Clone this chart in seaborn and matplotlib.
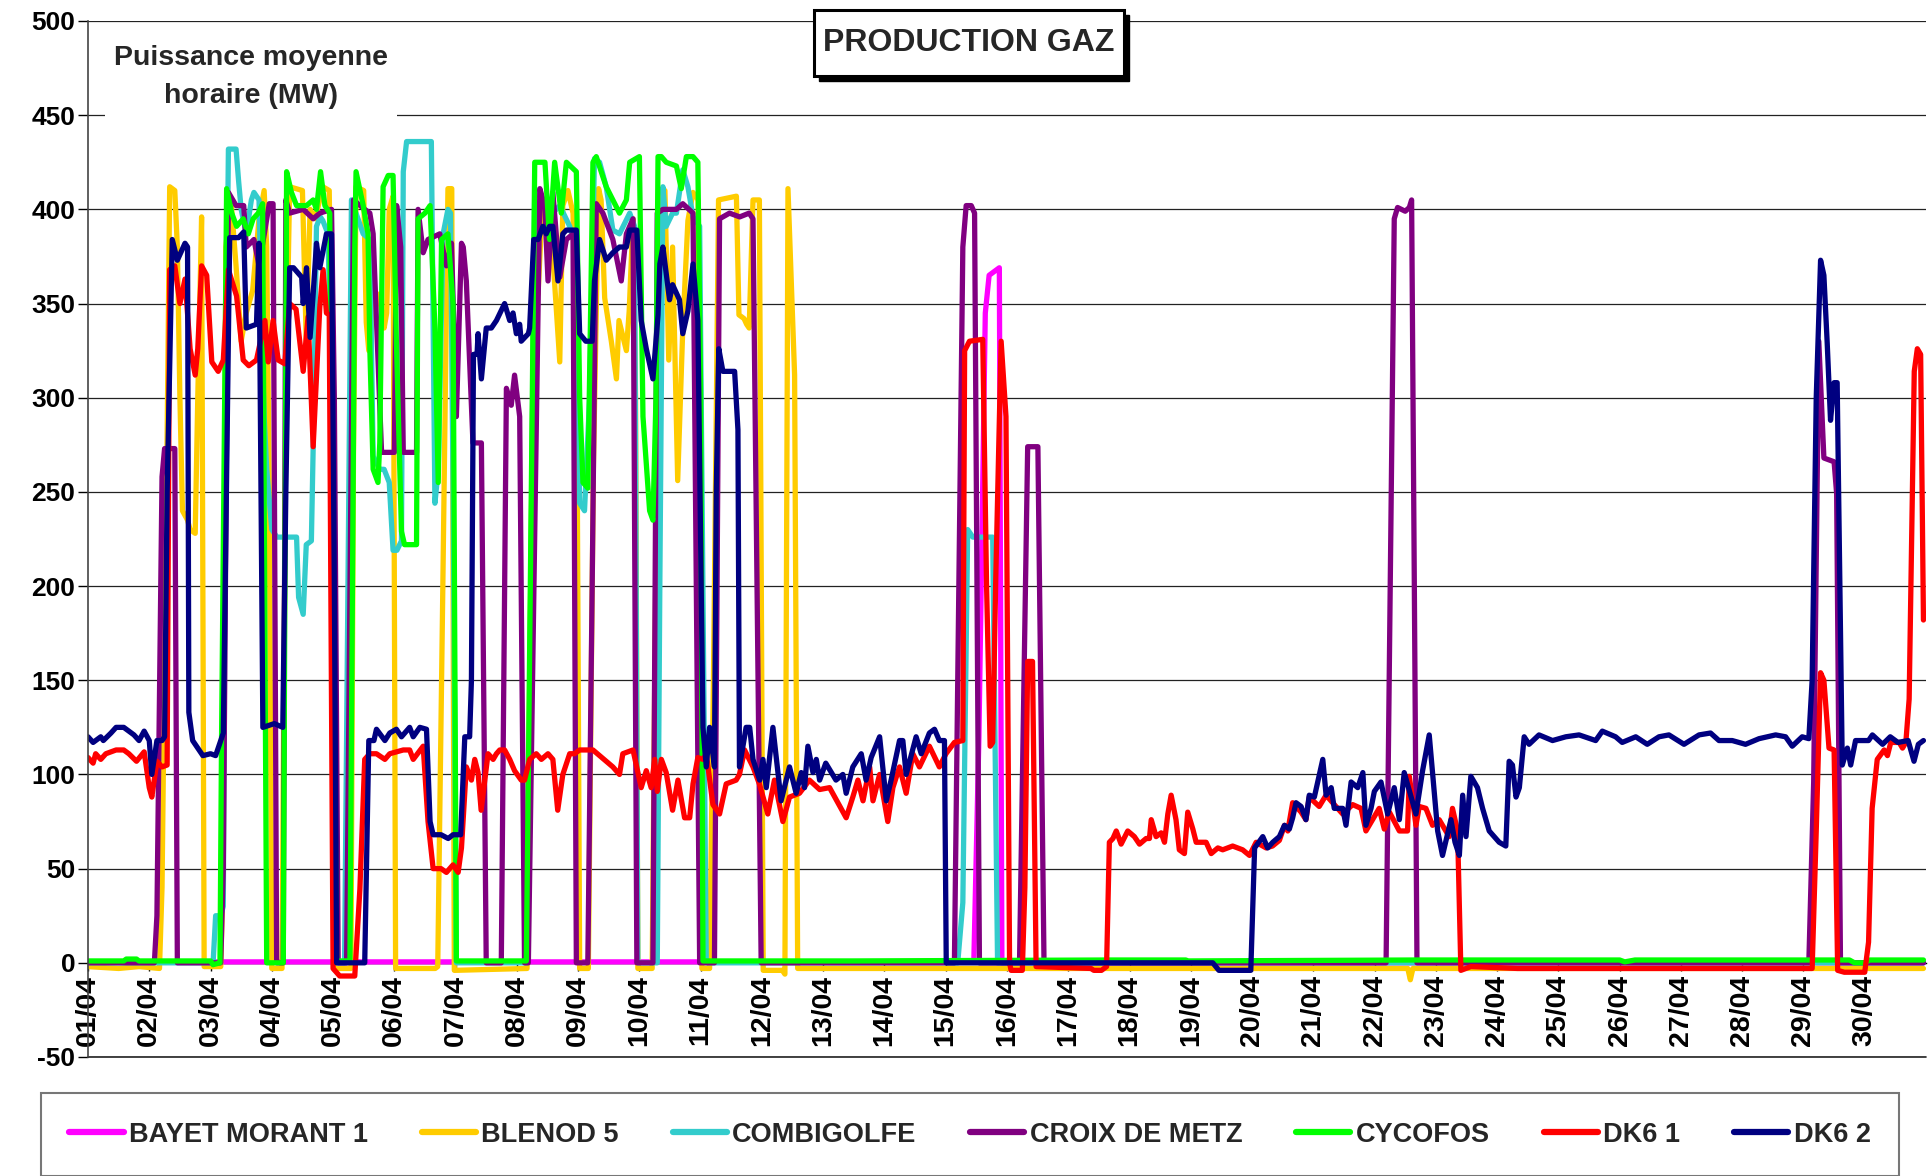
import matplotlib
matplotlib.use("Agg")
import matplotlib.pyplot as plt
import pandas as pd
import seaborn as sns
from matplotlib.patches import Rectangle

# ---------------- data (hour of month, MW) ----------------
series_names = ["BAYET MORANT 1", "BLENOD 5", "COMBIGOLFE", "CROIX DE METZ",
                "CYCOFOS", "DK6 1", "DK6 2"]
series_colors = ["#FF00FF", "#FFCC00", "#33CCCC", "#800080",
                 "#00FF00", "#FF0000", "#000080"]
day_labels = ["01/04", "02/04", "03/04", "04/04", "05/04", "06/04", "07/04", "08/04",
              "09/04", "10/04", "11/04", "12/04", "13/04", "14/04", "15/04", "16/04",
              "17/04", "18/04", "19/04", "20/04", "21/04", "22/04", "23/04", "24/04",
              "25/04", "26/04", "27/04", "28/04", "29/04", "30/04"]
y_ticks = [-50, 0, 50, 100, 150, 200, 250, 300, 350, 400, 450, 500]

bayet_morant_1 = [(0, 0.5), (347, 0.5), (349, 120), (351.5, 345), (353, 365), (357, 369),
                  (358, 0), (719, 0)]

blenod_5 = [(0, -2), (12, -3), (20, -2), (28, -3), (29, 40), (31, 280), (32, 412), (34, 410),
            (35, 380), (36, 300), (37, 240), (39, 235), (40, 230), (42, 228), (43, 300),
            (44.5, 396), (45.5, -2), (52, -2), (53, 50), (54, 380), (56, 405), (58, 370),
            (60, 330), (62, 345), (64.5, 357), (67, 395), (69, 410), (70, 380), (71, 250),
            (72, -3), (76, -3), (77.5, 300), (79, 412), (84, 410), (85.5, 330), (87, 400),
            (89, 395), (92, 412), (94.5, 410), (95.5, 300), (96.5, -3), (103, -3), (104, 270),
            (105, 412), (108, 410), (109, 340), (110, 325), (112, 348), (114, 355), (116, 337),
            (117, 345), (118, 400), (119.5, 407), (120.5, -3), (136, -3), (137, -2), (139, 200),
            (141, 411), (142.5, 411), (143.5, -4), (172, -3), (173, 150), (175, 400),
            (176.3, 355), (178, 403), (181, 398), (184.8, 319), (186, 402), (188, 410),
            (190, 398), (191.5, 300), (192.6, -3), (196, -3), (198, 265), (200, 411), (201, 405),
            (202.4, 353), (205, 330), (207, 310), (208, 341), (210.9, 325), (212, 346),
            (213.5, 395), (214.5, 300), (215.4, -3), (221, -3), (222, 150), (224, 405),
            (226, 410), (227.5, 320), (229, 380), (231, 256), (233, 337), (235, 394), (237, 409),
            (239, 405), (240.5, -3), (243.5, -3), (245, 150), (247, 405), (254, 407), (255, 344),
            (257, 342), (258, 339), (259, 337), (260.5, 405), (263, 405), (264.5, -4), (272, -4),
            (273, -6), (274.2, 411), (276.8, 312), (278, -3), (517, -3), (518, -9), (519, -3),
            (719, -3)]

combigolfe = [(0, 0), (49, 0), (50, 25), (52, 25), (53, 30), (54, 300), (55, 432), (58, 432),
              (59, 415), (60, 400), (62, 387), (64, 405), (65, 409), (67, 405), (68, 340),
              (69, 290), (70, 262), (72, 230), (74, 226), (81.7, 226), (82.5, 194), (84.3, 185),
              (85.5, 222), (87.5, 224), (88.2, 273), (89.5, 391), (91, 396), (92, 394), (94, 387),
              (95.5, 300), (97.4, 0), (100.5, 0), (103.2, 405), (107.8, 387), (110.4, 384),
              (111.7, 269), (114.3, 262), (116, 262), (118, 255), (119.5, 219), (121, 219),
              (122.8, 224), (123.5, 420), (124.8, 436), (134.5, 436), (135.9, 244), (137.2, 262),
              (139.1, 387), (141, 400), (142, 398), (143, 255), (144.3, 0), (172, 0), (175, 411),
              (179.5, 402), (182, 398), (184.8, 402), (188.7, 391), (191, 380), (192.6, 244),
              (194.5, 240), (196.5, 300), (198.4, 427), (200.4, 425), (203, 412), (205.6, 389),
              (208.2, 387), (212.2, 398), (214.1, 391), (215.4, 0), (223, 0), (224, 200),
              (225.2, 412), (226.5, 391), (229, 398), (230.5, 398), (233, 421), (235, 412),
              (237, 396), (239.6, 391), (242.2, 0), (340.7, 0), (342.7, 32), (344.6, 230),
              (346.6, 226), (354.4, 226), (356.3, 0), (719, 0)]

croix_de_metz = [(0, 0), (26, 0), (27, 25), (29, 258), (30, 273), (34, 273), (35, 0), (52, 0),
                 (53, 50), (55, 409), (58, 402), (61, 402), (62, 380), (65, 384), (67, 370),
                 (71, 403), (72.5, 403), (73.9, 0), (76.5, 0), (77.5, 405), (79, 398), (84.3, 400),
                 (88.2, 395), (90.8, 398), (95.4, 400), (96.5, 300), (98, 0), (101.3, 0),
                 (104, 405), (108.4, 400), (110.4, 398), (111.7, 387), (115, 271), (120, 271),
                 (120.9, 402), (122.5, 380), (123.5, 271), (128.7, 271), (129.3, 400),
                 (131.3, 377), (133.2, 384), (137.8, 387), (140.4, 370), (142.4, 382),
                 (144.3, 290), (146.3, 382), (147, 380), (148.2, 362), (150.8, 276), (154.1, 276),
                 (156, 0), (161.9, 0), (163.9, 305), (165.8, 296), (167.1, 312), (169.1, 290),
                 (171, 0), (172.5, 0), (177, 411), (178.9, 402), (180.2, 362), (182.1, 409),
                 (184.8, 364), (187.4, 384), (190, 387), (191.3, 0), (195.8, 0), (197.5, 200),
                 (199.1, 403), (201.7, 398), (205.6, 384), (208.9, 362), (210.9, 387),
                 (213.5, 395), (215, 0), (221.3, 0), (223, 398), (225.2, 400), (230.5, 400),
                 (233, 403), (237, 398), (239.6, 0), (245.4, 0), (247.4, 395), (251.3, 398),
                 (255.3, 396), (259, 398), (260.5, 395), (263.7, 0), (339.4, 0), (342.7, 380),
                 (344, 402), (346, 402), (347.3, 398), (349.2, 0), (364.9, 0), (368.1, 274),
                 (372.1, 274), (374.5, 0), (508.5, 0), (511.7, 395), (513, 401), (516, 399),
                 (517.6, 401), (518.5, 405), (520.6, 0), (674.1, 0), (676, 96), (678, 330),
                 (680, 268), (684, 266), (685, 249), (686.5, 0), (719, 0)]

cycofos = [(0, 1), (14, 1), (15, 2), (19, 2), (20, 1), (48, 1), (49, -1), (51.7, 0), (52.3, 117),
           (54.3, 411), (56.3, 398), (58.2, 391), (60.8, 395), (62.8, 387), (64.7, 395),
           (66.7, 398), (68.4, 403), (70, 0), (76.5, 0), (77.8, 420), (79.7, 409), (81.7, 402),
           (85.6, 402), (88.2, 405), (89.5, 400), (91.1, 420), (92.8, 402), (94.7, 398),
           (95.5, 250), (97.4, 1), (102.6, 1), (104.5, 380), (105, 420), (107.8, 402),
           (109.7, 387), (110.4, 326), (111.7, 262), (113.6, 255), (114.3, 276), (115.6, 412),
           (117.6, 418), (119.5, 418), (120.8, 330), (122.8, 229), (124, 222), (128.7, 222),
           (129.3, 395), (132, 398), (134, 402), (135.9, 337), (137.2, 255), (138.5, 384),
           (141, 387), (143, 350), (144.3, 1), (171.7, 1), (172.5, 100), (175, 425), (179, 425),
           (180.8, 384), (182.8, 425), (185.4, 398), (187.4, 425), (191.3, 420), (192.6, 300),
           (193.9, 255), (195.8, 252), (197.8, 425), (199.1, 428), (203, 412), (205.6, 405),
           (208.2, 398), (210.9, 405), (212.2, 425), (216, 428), (217.4, 290), (220, 240),
           (221.3, 235), (222.5, 300), (223.3, 428), (224.6, 428), (226.5, 425), (230.5, 423),
           (232.4, 411), (234.4, 428), (237, 428), (238.9, 425), (240, 300), (240.9, 1),
           (300, 1), (400, 1.5), (430, 1.5), (431, 1), (520, 1.5), (600, 1.5), (602, 0.5),
           (606, 1.5), (690, 1.5), (692, 0), (696, 0), (698, 1.5), (719, 1.5)]

dk6_1 = [(0, 109), (2, 106), (3, 111), (5, 108), (7, 111), (11, 113), (14, 113), (16, 111),
         (19, 107), (22, 112), (24, 93), (25, 88), (27, 107), (29, 104), (31, 105), (32, 368),
         (34, 370), (36, 350), (38, 363), (40, 326), (42, 312), (43, 326), (44.5, 370),
         (46.5, 365), (48.5, 319), (51, 314), (53, 320), (55, 368), (58.2, 354), (60.8, 320),
         (63, 317), (66, 320), (69.3, 341), (70.6, 319), (72.5, 341), (74.5, 320), (77.1, 318),
         (79, 350), (81.5, 347), (84.3, 314), (86.2, 343), (88.2, 274), (90.8, 348), (92.1, 368),
         (93.4, 345), (94.5, 344), (96, -3), (98.6, -7), (104.5, -7), (106.5, 39), (108.4, 108),
         (110.4, 111), (113, 111), (116.3, 108), (118.2, 111), (123.5, 113), (126, 113),
         (127.4, 108), (131.3, 115), (133.2, 75), (135.2, 50), (138.3, 50), (140.4, 48),
         (143, 52), (145, 48), (146.3, 61), (148.2, 104), (150.2, 97), (151.5, 108),
         (152.8, 101), (154, 81), (156.7, 111), (158.7, 108), (160, 111), (161.3, 113),
         (163.2, 113), (165.2, 108), (167.1, 102), (169.7, 97), (171, 97), (173, 108),
         (175.6, 111), (177.6, 108), (180.2, 111), (182.1, 108), (184, 81), (186, 100),
         (188.7, 111), (190.6, 111), (192.6, 113), (197.8, 113), (200.4, 110), (203, 107),
         (205.6, 104), (208.2, 100), (209.5, 111), (213.5, 113), (216.7, 93), (218.7, 102),
         (220.6, 93), (222, 108), (223, 91), (224.6, 108), (226.5, 101), (229, 81), (231.1, 97),
         (233.7, 77), (235.7, 77), (237, 95), (238.9, 109), (240.9, 108), (242.2, 111),
         (244.8, 84), (247.4, 79), (250, 95), (253.9, 97), (255.2, 100), (257.2, 113),
         (260.5, 104), (263, 95), (266.3, 79), (268.9, 97), (272.2, 75), (274.8, 88),
         (278.7, 90), (282.6, 97), (286.6, 92), (290.5, 93), (297, 77), (299.6, 88),
         (301.6, 97), (303.6, 86), (306.2, 104), (307.5, 86), (310.1, 100), (313.3, 75),
         (315.3, 93), (317.9, 104), (320.5, 90), (323.1, 111), (325.7, 104), (329.6, 115),
         (333.5, 104), (336.1, 111), (339.4, 117), (342.7, 118), (343.4, 325), (345.3, 330),
         (350.5, 331), (352, 200), (353.4, 115), (354.4, 117), (355.6, 204), (357.7, 330),
         (359.6, 290), (361, 0), (361.6, -4), (366, -4), (367, 40), (368.1, 160), (370, 160),
         (371.4, -2), (392.9, -3), (394, -4), (397, -4), (399, -2), (400.1, 64), (401.5, 66),
         (402.8, 70), (404.7, 63), (407.3, 70), (409.9, 67), (411.9, 63), (414.5, 66),
         (415.8, 66), (416.5, 76), (418.4, 67), (420.4, 69), (421.7, 64), (423, 79), (424.3, 89),
         (426.2, 76), (427.5, 60), (429.5, 58), (430.8, 80), (432.8, 71), (434.1, 64),
         (438, 64), (440, 58), (442.6, 61), (444.5, 60), (448.4, 62), (452.3, 60), (455, 57),
         (457.6, 64), (461.5, 61), (464, 62), (466.7, 65), (468.7, 73), (470, 70), (471.9, 85),
         (475.2, 80), (477.1, 76), (478.4, 88), (482.3, 83), (485, 89), (488.2, 84),
         (491.5, 79), (495.4, 84), (498.7, 82), (500.6, 70), (503.2, 76), (505.8, 82),
         (507.8, 71), (509.8, 80), (513.7, 70), (516.9, 70), (517.6, 99), (520.2, 73),
         (521.5, 83), (524.1, 82), (526.7, 73), (529.3, 76), (533.2, 67), (534.5, 82),
         (536.5, 70), (537.8, -4), (541.7, -2), (560, -3), (600, -3), (675.4, -3), (677, 70),
         (678.7, 154), (680, 150), (682, 114), (684, 113), (685.4, -4), (688, -5), (696, -5),
         (697.5, 11), (698.9, 82), (700.9, 108), (703.6, 113), (704.9, 110), (706.2, 117),
         (709.5, 117), (710.8, 114), (712.1, 117), (713.4, 140), (714.7, 252), (715.4, 314),
         (716.6, 326), (717.9, 323), (719, 182)]

dk6_2 = [(0, 120), (2, 117), (5, 120), (6, 118), (9, 122), (11, 125), (14, 125), (16, 123),
         (18, 121), (20, 118), (22, 123), (24, 118), (25, 100), (27, 118), (29, 118), (30, 120),
         (31, 250), (33, 384), (35, 373), (38, 382), (39, 380), (39.5, 133), (41, 118),
         (45, 110), (48, 111), (50, 110), (52, 118), (53, 122), (55.5, 385), (59, 385),
         (61, 388), (62, 337), (66, 339), (67, 382), (68.5, 125), (73, 127), (76.3, 125),
         (77.5, 250), (79, 369), (80.5, 369), (83.7, 364), (84.3, 350), (85.6, 369), (87, 332),
         (88.2, 355), (89.5, 382), (90.8, 369), (93.4, 387), (95.4, 387), (96.5, 200),
         (97.4, 0), (108.4, 0), (110, 118), (112, 118), (113, 124), (116.3, 118), (118.2, 122),
         (120.8, 124), (122.8, 120), (126, 125), (127.4, 120), (130, 125), (132.6, 124),
         (134, 75), (135.2, 68), (138.3, 68), (141.1, 66), (143, 68), (146, 68), (147.6, 120),
         (149.5, 120), (150.2, 150), (151, 323), (152.4, 323), (152.8, 334), (154.1, 310),
         (156, 337), (158, 337), (160, 341), (163.2, 350), (165.2, 341), (166.5, 345),
         (167.8, 334), (169.1, 339), (169.7, 330), (172.5, 334), (173, 337), (174.6, 384),
         (176.3, 384), (178.2, 391), (179.5, 387), (180.8, 391), (182.1, 391), (184.1, 362),
         (186, 387), (187.4, 389), (191.3, 389), (192.6, 334), (195, 330), (197.5, 330),
         (198.4, 362), (200.4, 384), (203, 373), (205.6, 377), (208.2, 380), (210.9, 380),
         (212.2, 389), (215, 389), (216.7, 341), (218.7, 326), (221.3, 310), (223.3, 344),
         (224, 371), (225.2, 380), (227.8, 352), (229, 360), (231.7, 352), (233, 334),
         (235, 346), (237, 371), (238.9, 341), (240.9, 125), (242.2, 104), (243.5, 125),
         (245.4, 104), (246.1, 250), (247.1, 326), (248.7, 314), (253.3, 314), (254.6, 283),
         (255.2, 104), (257.8, 125), (259.2, 125), (260.5, 108), (263.1, 97), (264.4, 108),
         (265.7, 93), (268.3, 125), (271.5, 86), (274.8, 104), (277.4, 90), (279.4, 101),
         (280.7, 93), (282, 115), (284, 101), (285.3, 108), (286.6, 97), (289, 106), (293, 97),
         (295.7, 100), (297, 90), (299.6, 104), (302.9, 111), (304.8, 97), (306.8, 109),
         (310.1, 120), (312.7, 86), (314.6, 97), (317.9, 118), (319.2, 118), (320.5, 100),
         (324.4, 120), (326.4, 111), (329.6, 122), (331.6, 124), (333.5, 118), (335.5, 118),
         (336.2, 0), (440.6, 0), (443, -4), (455.5, -4), (457, 61), (460.2, 67), (462.1, 61),
         (464.1, 64), (466.7, 67), (468.7, 73), (470.6, 71), (471.9, 77), (473.2, 85),
         (475.2, 83), (477.1, 76), (478.4, 89), (480.4, 88), (483.7, 108), (485, 89), (487, 93),
         (488.2, 82), (491.5, 82), (492.8, 73), (494.8, 96), (497.4, 93), (499.4, 101),
         (500.6, 73), (502.6, 82), (503.9, 91), (506.5, 96), (509.1, 79), (511.7, 93),
         (513.7, 76), (515.6, 101), (520.2, 79), (522.8, 102), (525.4, 121), (528.7, 70),
         (530.6, 57), (533.9, 76), (535.5, 64), (537.2, 57), (538.5, 89), (539.8, 67),
         (541.7, 99), (544.3, 93), (546.3, 82), (548.9, 70), (552.8, 64), (555.4, 62),
         (556.7, 107), (558, 105), (559.4, 88), (560.7, 93), (562.6, 120), (564.5, 116),
         (568.4, 121), (573.7, 118), (578.9, 120), (584.1, 121), (590.6, 118), (593.2, 123),
         (598.4, 120), (601, 117), (606.3, 120), (610.8, 116), (615.4, 120), (619.3, 121),
         (625.2, 116), (631.1, 121), (635.6, 122), (638.9, 118), (644.1, 118), (649.3, 116),
         (654.6, 119), (661.1, 121), (665, 120), (667.6, 115), (671.5, 120), (674.1, 119),
         (675.4, 150), (677, 300), (678.7, 373), (680, 365), (681.3, 329), (682.6, 288),
         (684, 308), (685.2, 308), (687.2, 105), (689.2, 114), (690.5, 105), (692.4, 118),
         (697.5, 118), (699, 121), (703, 116), (706, 120), (709, 117), (713, 118), (715.3, 107),
         (717, 116), (719, 118)]

all_series = [bayet_morant_1, blenod_5, combigolfe, croix_de_metz, cycofos, dk6_1, dk6_2]

rows = []
for name, pts in zip(series_names, all_series):
    for h, mw in pts:
        rows.append((name, h, mw))
df = pd.DataFrame(rows, columns=["centrale", "heure", "mw"])

# ---------------- figure ----------------
sns.set_style("white")
plt.rcParams["font.family"] = ["Liberation Sans", "DejaVu Sans"]

W, H = 1933, 1176
fig = plt.figure(figsize=(W / 100, H / 100), dpi=100)
ax_left, ax_right, ax_top, ax_bot = 88, 1926, 21, 1057
ax = fig.add_axes([ax_left / W, 1 - ax_bot / H, (ax_right - ax_left) / W, (ax_bot - ax_top) / H])

sns.lineplot(data=df, x="heure", y="mw", hue="centrale", hue_order=series_names,
             palette=series_colors, sort=False, estimator=None, linewidth=3.8, ax=ax)
for ln in ax.get_lines():
    ln.set_solid_joinstyle("round")

handles, labels = ax.get_legend_handles_labels()
if ax.get_legend() is not None:
    ax.get_legend().remove()

# spine positions first (this resets tick objects)
ax.spines["bottom"].set_position(("data", 0))
ax.spines["bottom"].set_color("black")
ax.spines["bottom"].set_linewidth(1.0)
ax.spines["bottom"].set_zorder(0.5)
ax.spines["left"].set_color("#444444")
ax.spines["left"].set_linewidth(1.2)
ax.spines["top"].set_visible(False)
ax.spines["right"].set_visible(False)

ax.set_xlim(0, 720)
ax.set_ylim(-50, 500)
ax.set_yticks(y_ticks)
ax.set_yticklabels([str(v) for v in y_ticks], fontsize=19, fontweight="bold")
ax.set_xticks([24 * i for i in range(len(day_labels))])
ax.set_xticklabels(day_labels, fontsize=20.5, fontweight="bold", rotation=90,
                   ha="center", va="top")
ax.set_xlabel("")
ax.set_ylabel("")

ax.grid(axis="y", color="#222222", linewidth=0.9)
ax.grid(axis="x", visible=False)
ax.set_axisbelow(True)
ax.axhline(-50, color="#222222", linewidth=1.2, clip_on=False, zorder=0.4)
ax.tick_params(axis="x", direction="out", length=6, width=1, pad=3, colors="black", bottom=True)
ax.tick_params(axis="y", direction="out", length=7, width=1, pad=2, colors="black", left=True)

# y-axis caption with white background
fig.text(251 / W, 1 - 77 / H, "Puissance moyenne\nhoraire (MW)", ha="center", va="center",
         fontsize=20.5, fontweight="bold", linespacing=1.6,
         bbox=dict(boxstyle="square,pad=0.3", facecolor="white", edgecolor="none"))

# title box with shadow
bx0, by0, bx1, by1 = 814, 10, 1124, 76
fig.add_artist(Rectangle(((bx0 + 5) / W, 1 - (by1 + 5) / H), (bx1 - bx0) / W, (by1 - by0) / H,
                         transform=fig.transFigure, facecolor="black", edgecolor="black",
                         zorder=10))
fig.add_artist(Rectangle((bx0 / W, 1 - by1 / H), (bx1 - bx0) / W, (by1 - by0) / H,
                         transform=fig.transFigure, facecolor="white", edgecolor="black",
                         linewidth=2.2, zorder=11))
fig.text((bx0 + bx1) / 2 / W, 1 - (by0 + by1) / 2 / H, "PRODUCTION GAZ", ha="center",
         va="center", fontsize=23, fontweight="bold", zorder=12)

# legend
leg = fig.legend(handles, labels, loc="center", ncol=7, mode="expand",
                 bbox_to_anchor=(41 / W, 2 / H, 1858 / W, 79 / H), borderaxespad=0,
                 frameon=True, fancybox=False, edgecolor="#555555",
                 prop={"weight": "bold", "size": 19.5}, handlelength=2.0,
                 handletextpad=0.2, borderpad=1.05)
leg.get_frame().set_linewidth(1.5)
for lh in leg.get_lines():
    lh.set_linewidth(4.5)

fig.savefig("out.png", dpi=100)
